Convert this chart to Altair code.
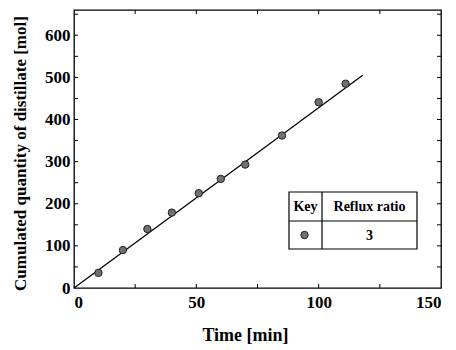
import altair as alt
import pandas as pd

# Measured points
time_min = [10, 20, 30, 40, 51, 60, 70, 85, 100, 111]
distillate_mol = [36, 90, 140, 179, 225, 259, 293, 362, 441, 485]

# Fitted line end points
line_time = [0, 118]
line_mol = [0, 505]

# Tick values
x_label_ticks = [0, 50, 100, 150]
y_label_ticks = [0, 100, 200, 300, 400, 500, 600]
x_minor_ticks = [25, 50, 75, 100, 125]
y_minor_ticks = [50, 100, 150, 200, 250, 300, 350, 400, 450, 500, 550, 600, 650]

# Key table texts
key_header = ["Key"]
ratio_header = ["Reflux ratio"]
reflux_ratio = ["3"]

FONT = "Liberation Serif"
W, H = 367, 278

xs = alt.Scale(domain=[0, 150], nice=False, zero=False)
ys = alt.Scale(domain=[0, 660], nice=False, zero=False)

pts = pd.DataFrame({"t": time_min, "q": distillate_mol})
ln = pd.DataFrame({"t": line_time, "q": line_mol})

base_x = alt.X("t:Q", scale=xs, axis=alt.Axis(
    values=x_label_ticks, title="Time [min]", grid=False, domain=False, ticks=False,
    labelFont=FONT, labelFontSize=17, labelFontWeight="bold", labelColor="black",
    labelPadding=6, titleFont=FONT, titleFontSize=18, titleFontWeight="bold",
    titleColor="black", titleX=171, titleY=52, titleBaseline="alphabetic"))
base_y = alt.Y("q:Q", scale=ys, axis=alt.Axis(
    values=y_label_ticks, title="Cumulated quantity of distillate [mol]", grid=False,
    domain=False, ticks=False, labelFont=FONT, labelFontSize=17, labelFontWeight="bold",
    labelColor="black", labelPadding=4, titleFont=FONT, titleFontSize=17,
    titleFontWeight="bold", titleColor="black", titleX=-54, titleY=143,
    titleBaseline="middle", titleAngle=-90))

line = alt.Chart(ln).mark_line(color="black", strokeWidth=1.3).encode(x=base_x, y=base_y)
points = alt.Chart(pts).mark_circle(size=55, fill="#707070", stroke="#222222",
                                    strokeWidth=1, opacity=1).encode(
    x=alt.X("t:Q", scale=xs), y=alt.Y("q:Q", scale=ys))

xt = pd.DataFrame({"v": x_minor_ticks})
yt = pd.DataFrame({"v": y_minor_ticks})
tick_style = dict(color="black", strokeWidth=1)
bottom_ticks = alt.Chart(xt).mark_rule(**tick_style).encode(
    x=alt.X("v:Q", scale=xs), y=alt.value(H), y2=alt.value(H - 4))
top_ticks = alt.Chart(xt).mark_rule(**tick_style).encode(
    x=alt.X("v:Q", scale=xs), y=alt.value(0), y2=alt.value(4))
left_ticks = alt.Chart(yt).mark_rule(**tick_style).encode(
    y=alt.Y("v:Q", scale=ys), x=alt.value(0), x2=alt.value(4))
right_ticks = alt.Chart(yt).mark_rule(**tick_style).encode(
    y=alt.Y("v:Q", scale=ys), x=alt.value(W), x2=alt.value(W - 4))

# Key table (positions in plot pixels)
one = pd.DataFrame({"a": [0]})
bx0, bx1, by0, by1 = 215, 343, 182, 239
row_div, col_div = 211, 248
box = alt.Chart(one).mark_rect(fill="white", stroke="black", strokeWidth=1.2).encode(
    x=alt.value(bx0), x2=alt.value(bx1), y=alt.value(by0), y2=alt.value(by1))
hdiv = alt.Chart(one).mark_rule(color="black", strokeWidth=1.2).encode(
    x=alt.value(bx0), x2=alt.value(bx1), y=alt.value(row_div))
vdiv = alt.Chart(one).mark_rule(color="black", strokeWidth=1.2).encode(
    x=alt.value(col_div), y=alt.value(by0), y2=alt.value(by1))
txt_style = dict(font=FONT, fontSize=14, fontWeight="bold", color="black",
                 align="center", baseline="middle")
t_key = alt.Chart(pd.DataFrame({"s": key_header})).mark_text(**txt_style).encode(
    text="s:N", x=alt.value((bx0 + col_div) / 2), y=alt.value((by0 + row_div) / 2))
t_ratio = alt.Chart(pd.DataFrame({"s": ratio_header})).mark_text(**txt_style).encode(
    text="s:N", x=alt.value((col_div + bx1) / 2), y=alt.value((by0 + row_div) / 2))
t_val = alt.Chart(pd.DataFrame({"s": reflux_ratio})).mark_text(**txt_style).encode(
    text="s:N", x=alt.value((col_div + bx1) / 2), y=alt.value((row_div + by1) / 2 + 1))
key_pt = alt.Chart(one).mark_circle(size=55, fill="#707070", stroke="#222222",
                                    strokeWidth=1, opacity=1).encode(
    x=alt.value((bx0 + col_div) / 2 - 1), y=alt.value((row_div + by1) / 2))

chart = alt.layer(
    line, bottom_ticks, top_ticks, left_ticks, right_ticks, points,
    box, hdiv, vdiv, t_key, t_ratio, t_val, key_pt
).properties(
    width=W, height=H,
    autosize=alt.AutoSizeParams(type="none"),
    padding={"left": 66, "top": 2, "right": 7, "bottom": 60},
    background="white",
).configure_view(stroke="black", strokeWidth=1.3)

chart.save("out.html", embed_options={"renderer": "svg", "actions": False})
